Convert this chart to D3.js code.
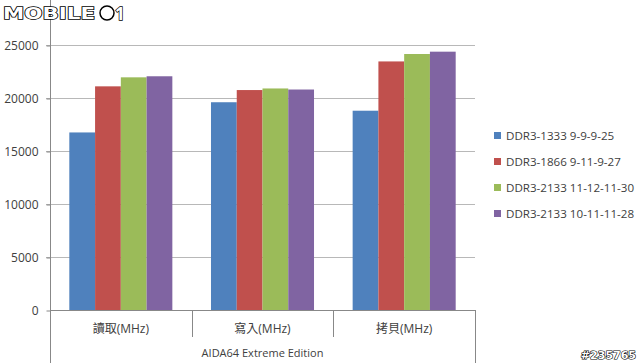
<!DOCTYPE html>
<html>
<head>
<meta charset="utf-8">
<script src="https://cdn.jsdelivr.net/npm/d3@7"></script>
<style>
  body { margin: 0; background: #fff; }
  svg text { font-family: "Open Sans", "Noto Sans CJK TC", sans-serif; }
</style>
</head>
<body>
<svg id="chart" width="640" height="363"></svg>
<script>
// chart data
const categories = ["讀取(MHz)", "寫入(MHz)", "拷貝(MHz)"];
const seriesNames = ["DDR3-1333 9-9-9-25", "DDR3-1866 9-11-9-27", "DDR3-2133 11-12-11-30", "DDR3-2133 10-11-11-28"];
const read = [16750, 21100, 21950, 22050];
const write = [19600, 20750, 20900, 20800];
const copy = [18800, 23450, 24150, 24370];
const yTicks = [0, 5000, 10000, 15000, 20000, 25000];
const colors = ["#4f81bd", "#c0504d", "#9bbb59", "#8064a2"];
const groupTitle = "AIDA64 Extreme Edition";

const values = [read, write, copy];

let svg = d3.select("#chart");

// plot area
let plotLeft = 50, plotRight = 475, plotTop = 45, plotBottom = 310;

let x = d3.scaleBand().domain(categories).range([plotLeft, plotRight]);
// Excel style gap width 150%: 4 bars + 1.5 bar of gap
let inner = x.bandwidth() * 4 / 5.5;
let x1 = d3.scaleBand().domain(d3.range(4)).range([0, inner]);
let y = d3.scaleLinear().domain([0, 25000]).range([plotBottom, plotTop]);

// gridlines
svg.append("g")
    .selectAll("line")
    .data(yTicks.slice(1))
    .enter().append("line")
    .attr("x1", plotLeft - 4)
    .attr("x2", plotRight)
    .attr("y1", d => y(d) + 0.5)
    .attr("y2", d => y(d) + 0.5)
    .attr("stroke", "#b8b8b8")
    .attr("stroke-width", 1);

// y axis
let yAxis = d3.axisLeft(y).tickValues(yTicks).tickSize(4).tickPadding(8).tickFormat(d3.format("d"));
let yg = svg.append("g").attr("transform", "translate(" + (plotLeft + 0.5) + ",0.5)").call(yAxis);
yg.select(".domain").remove();
yg.selectAll(".tick line").attr("stroke", "#888");
yg.selectAll(".tick text")
    .attr("fill", "#404040")
    .style("font-size", "12px")
    .style("font-family", "'Open Sans', sans-serif");
svg.append("line")
    .attr("x1", plotLeft + 0.5).attr("x2", plotLeft + 0.5)
    .attr("y1", 0).attr("y2", 363)
    .attr("stroke", "#888");

// bars
let groups = svg.append("g")
    .selectAll("g")
    .data(categories)
    .enter().append("g")
    .attr("transform", d => "translate(" + (x(d) + (x.bandwidth() - inner) / 2) + ",0)");

groups.selectAll("rect")
    .data((d, i) => values[i].map((v, j) => ({ v: v, j: j })))
    .enter().append("rect")
    .attr("x", d => x1(d.j))
    .attr("width", x1.bandwidth())
    .attr("y", d => y(d.v))
    .attr("height", d => y(0) - y(d.v))
    .attr("fill", d => colors[d.j]);

// category axis
svg.append("line")
    .attr("x1", plotLeft).attr("x2", plotRight + 0.5)
    .attr("y1", plotBottom + 0.5).attr("y2", plotBottom + 0.5)
    .attr("stroke", "#888");

let bounds = categories.map(c => x(c)).concat([plotRight]);
svg.append("g")
    .selectAll("line")
    .data(bounds)
    .enter().append("line")
    .attr("x1", d => Math.round(d) + 0.5)
    .attr("x2", d => Math.round(d) + 0.5)
    .attr("y1", plotBottom)
    .attr("y2", (d, i) => (i === 0 || i === bounds.length - 1) ? 363 : 337)
    .attr("stroke", "#888");

svg.append("g")
    .selectAll("text")
    .data(categories)
    .enter().append("text")
    .attr("x", d => x(d) + x.bandwidth() / 2)
    .attr("y", 333)
    .attr("text-anchor", "middle")
    .attr("fill", "#404040")
    .style("font-size", "12px")
    .text(d => d);

svg.append("text")
    .attr("x", (plotLeft + plotRight) / 2)
    .attr("y", 357)
    .attr("text-anchor", "middle")
    .attr("fill", "#404040")
    .style("font-size", "11px")
    .text(groupTitle);

// legend
let legend = svg.append("g")
    .selectAll("g")
    .data(seriesNames)
    .enter().append("g")
    .attr("transform", (d, i) => "translate(494," + (132 + i * 26) + ")");

legend.append("rect")
    .attr("width", 7).attr("height", 7)
    .attr("fill", (d, i) => colors[i]);

legend.append("text")
    .attr("x", 12)
    .attr("y", 7.5)
    .attr("fill", "#404040")
    .style("font-size", "11.6px")
    .text(d => d);

// watermarks
svg.append("text")
    .attr("x", 3).attr("y", 19)
    .attr("textLength", 92)
    .attr("lengthAdjust", "spacingAndGlyphs")
    .attr("fill", "#fff")
    .attr("stroke", "#000")
    .attr("stroke-width", 1.4)
    .attr("paint-order", "stroke")
    .style("font-family", "'DejaVu Sans', sans-serif")
    .style("font-size", "16px")
    .style("font-weight", "bold")
    .text("MOBILE");
svg.append("circle")
    .attr("cx", 107).attr("cy", 13).attr("r", 7)
    .attr("fill", "#fff").attr("stroke", "#000").attr("stroke-width", 1.5);
svg.append("text")
    .attr("x", 115).attr("y", 20)
    .attr("fill", "#fff").attr("stroke", "#000").attr("stroke-width", 1.4)
    .attr("paint-order", "stroke")
    .style("font-size", "17px").style("font-weight", "bold")
    .text("1");

svg.append("text")
    .attr("x", 636).attr("y", 359)
    .attr("text-anchor", "end")
    .attr("fill", "#fff")
    .attr("stroke", "#000")
    .attr("stroke-width", 1.2)
    .attr("paint-order", "stroke")
    .style("font-family", "'DejaVu Sans', sans-serif")
    .style("font-size", "11px")
    .style("font-weight", "bold")
    .text("#235765");
</script>
</body>
</html>
